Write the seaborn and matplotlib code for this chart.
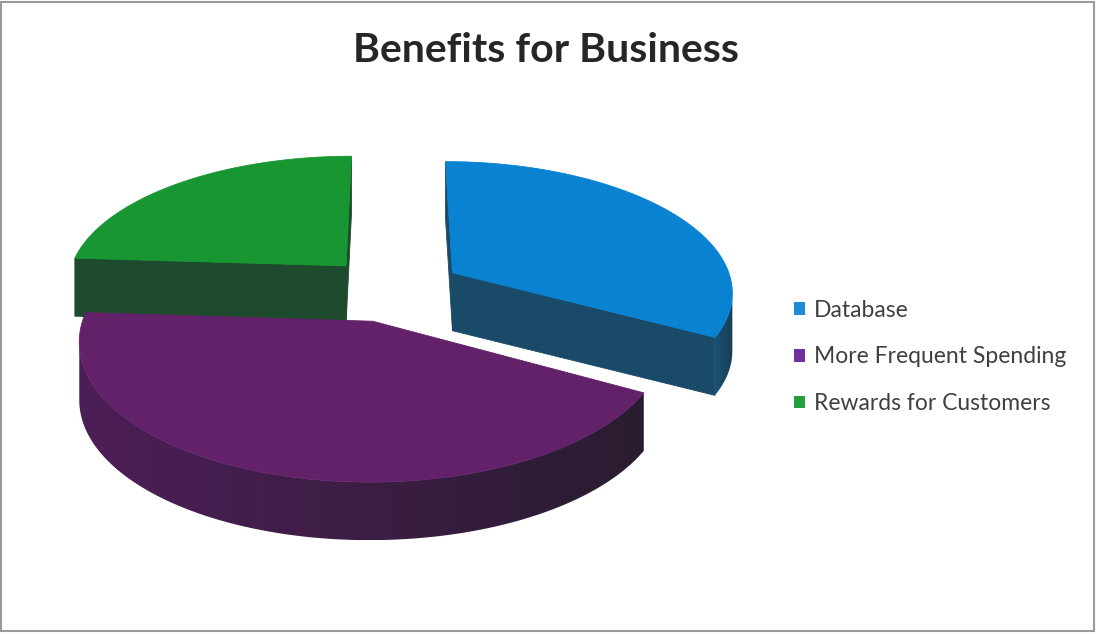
import numpy as np
import matplotlib
matplotlib.use("Agg")
import matplotlib.pyplot as plt
import seaborn as sns
from matplotlib.patches import Polygon, Patch, Rectangle
from matplotlib.colors import to_rgb

# ---- data -------------------------------------------------------------
categories = ["Database", "More Frequent Spending", "Rewards for Customers"]
shares = [33, 43, 24]
title_text = "Benefits for Business"

# ---- style --------------------------------------------------------------
top_colors = ["#0a82d2", "#622169", "#179632"]
cut_colors = ["#194b69", "#2d1e32", "#1e4b2d"]
side_left = ["#1c5172", "#4d1f58", "#22532f"]    # side shade on the left of a slice
side_right = ["#163f58", "#2a1c30", "#1a4027"]   # side shade on the right of a slice
legend_colors = ["#1e8bd6", "#7030a0", "#22a040"]

sns.set_theme(style="white")
plt.rcParams["font.family"] = ["Lato", "DejaVu Sans"]

W, H = 1096, 634
fig = plt.figure(figsize=(W / 100, H / 100), dpi=100)
ax = fig.add_axes([0, 0, 1, 1])
ax.set_xlim(0, W)
ax.set_ylim(H, 0)
ax.axis("off")

# ---- simple perspective projection of the pie plane -----------------------
CX, CY = 393.0, 289.0      # screen position of the pie centre
SX, SY = 281.0, 130.0      # horizontal / vertical radius scale
DIST = 7.5                 # viewing distance (in pie radii)
DEPTH = 58.0               # thickness of the pie in screen units
EXPLODE = 0.25             # explosion distance (in pie radii)
START = 90.0               # first slice starts at 12 o'clock, clockwise


def project(x, y):
    k = DIST / (DIST + y)
    return np.column_stack([CX + SX * x * k, CY - SY * y * k])


def gradient_fill(poly_pts, c_left, c_right, zorder):
    """Fill a polygon with a left-to-right colour gradient."""
    x0, x1 = poly_pts[:, 0].min(), poly_pts[:, 0].max()
    y0, y1 = poly_pts[:, 1].min(), poly_pts[:, 1].max()
    t = np.linspace(0, 1, 256)[None, :, None]
    a, b = np.array(to_rgb(c_left)), np.array(to_rgb(c_right))
    img = a + (b - a) * t
    clip = Polygon(poly_pts, closed=True, facecolor="none", edgecolor="none")
    ax.add_patch(clip)
    im = ax.imshow(img, extent=(x0, x1, y1, y0), aspect="auto",
                   interpolation="bilinear", zorder=zorder)
    im.set_clip_path(clip)


total = float(sum(shares))
slices = []
angle = START
for i, v in enumerate(shares):
    sweep = v / total * 360.0
    t0, t1 = angle, angle - sweep
    mid = np.radians((t0 + t1) / 2)
    ox, oy = EXPLODE * np.cos(mid), EXPLODE * np.sin(mid)
    slices.append(dict(i=i, t0=t0, t1=t1, ox=ox, oy=oy))
    angle = t1

z = 1
# paint the slices from back to front
for s in sorted(slices, key=lambda d: -d["oy"]):
    i = s["i"]
    n = max(int(abs(s["t0"] - s["t1"]) * 2), 24)
    th = np.radians(np.linspace(s["t0"], s["t1"], n))
    wx = np.concatenate([[s["ox"]], s["ox"] + np.cos(th)])
    wy = np.concatenate([[s["oy"]], s["oy"] + np.sin(th)])
    pts = project(wx, wy)
    area = 0.5 * np.sum(pts[:, 0] * np.roll(pts[:, 1], -1) - np.roll(pts[:, 0], -1) * pts[:, 1])
    m = len(pts)
    down = np.array([0.0, DEPTH])

    def faces_down(j):
        p, q = pts[j], pts[(j + 1) % m]
        dx, dy = q - p
        ny = -dx if area > 0 else dx
        return ny > 1e-9

    # radial cut faces that face the viewer
    for j in (0, m - 1):
        if faces_down(j):
            p, q = pts[j], pts[(j + 1) % m]
            quad = np.array([p, q, q + down, p + down])
            ax.add_patch(Polygon(quad, closed=True, facecolor=cut_colors[i],
                                 edgecolor=cut_colors[i], lw=0.6, zorder=z))
    z += 1
    # curved outer side: contiguous run of arc segments facing the viewer
    vis = [j for j in range(1, m - 1) if faces_down(j)]
    if vis:
        runs, cur = [], [vis[0]]
        for j in vis[1:]:
            if j == cur[-1] + 1:
                cur.append(j)
            else:
                runs.append(cur)
                cur = [j]
        runs.append(cur)
        for run in runs:
            arc = pts[run[0]:run[-1] + 2]
            side = np.vstack([arc, (arc + down)[::-1]])
            gradient_fill(side, side_left[i], side_right[i], z)
    z += 1
    ax.add_patch(Polygon(pts, closed=True, facecolor=top_colors[i],
                         edgecolor=top_colors[i], lw=0.6, zorder=z))
    z += 1

# ---- title and legend -----------------------------------------------------
ax.text(546, 50, title_text, ha="center", va="center", fontsize=29.5,
        fontweight="bold", color="#262626", zorder=20)

handles = [Patch(facecolor=c, edgecolor="none") for c in legend_colors]
ax.legend(handles, categories, loc="center left", bbox_to_anchor=(0.706, 0.437),
          frameon=False, fontsize=16.5, handlelength=0.48, handleheight=0.48,
          handletextpad=0.36, labelspacing=1.12, labelcolor="#404040")

fig.patches.append(Rectangle((0.001, 0.004), 0.997, 0.993, transform=fig.transFigure,
                             fill=False, edgecolor="#9a9a9a", lw=1.5))

fig.savefig("out.png", dpi=100, facecolor="white")
